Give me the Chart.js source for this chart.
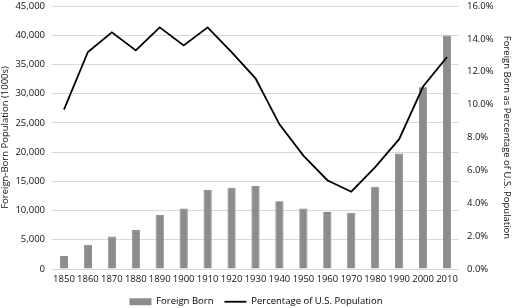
<!DOCTYPE html>
<html><head><meta charset="utf-8">
<script src="https://cdn.jsdelivr.net/npm/chart.js@4.4.1/dist/chart.umd.min.js"></script>
<style>html,body{margin:0;padding:0;background:#fff}#wrap{width:512px;height:308px}</style>
</head><body><div id="wrap"><canvas id="c" width="512" height="308"></canvas></div>
<script>
const years = ['1850','1860','1870','1880','1890','1900','1910','1920','1930','1940','1950','1960','1970','1980','1990','2000','2010'];
const foreignBorn = [2244,4139,5567,6680,9250,10341,13516,13921,14204,11595,10347,9738,9619,14080,19767,31108,39956];
const percentPop = [9.7,13.2,14.4,13.3,14.7,13.6,14.7,13.2,11.6,8.8,6.9,5.4,4.7,6.2,7.9,11.1,12.9];
const leftTitle = 'Foreign-Born Population (1000s)';
const rightTitle = 'Foreign Born as Percentage of U.S. Population';

const FONT = "'Open Sans', sans-serif";
Chart.defaults.font.family = FONT;
Chart.defaults.font.size = 9.5;
Chart.defaults.color = '#111';

new Chart(document.getElementById('c'), {
  data: {
    labels: years,
    datasets: [
      { type: 'line', label: 'Percentage of U.S. Population', data: percentPop, yAxisID: 'y1',
        borderColor: '#000', backgroundColor: '#000', borderWidth: 1.8, pointRadius: 0, tension: 0, order: 0 },
      { type: 'bar', label: 'Foreign Born', data: foreignBorn, yAxisID: 'y',
        backgroundColor: '#8c8c8c', borderColor: '#777', borderWidth: 0.8,
        categoryPercentage: 1, barPercentage: 0.34, order: 1 }
    ]
  },
  options: {
    responsive: false, animation: false,
    layout: { padding: { top: 6, left: 0, right: 0, bottom: 0 } },
    plugins: {
      tooltip: { enabled: false },
      legend: {
        position: 'bottom',
        maxHeight: 22,
        labels: {
          usePointStyle: true, pointStyleWidth: 22, boxHeight: 7, padding: 11,
          font: { size: 9.5, family: FONT }, color: '#111',
          generateLabels: (chart) => [
            { text: 'Foreign Born', fillStyle: '#8c8c8c', strokeStyle: '#8c8c8c', lineWidth: 0, pointStyle: 'rect', datasetIndex: 1 },
            { text: 'Percentage of U.S. Population', fillStyle: '#000', strokeStyle: '#000', lineWidth: 1.8, pointStyle: 'line', datasetIndex: 0 }
          ]
        }
      }
    },
    scales: {
      x: {
        grid: { display: false, drawTicks: false },
        border: { display: false },
        ticks: { padding: 5, maxRotation: 0, autoSkip: false, font: { size: 9.5 } },
        afterFit: (s) => { s.height = 17; }
      },
      y: {
        position: 'left', min: 0, max: 45000,
        ticks: { stepSize: 5000, padding: 7, callback: (v) => v.toLocaleString('en-US') },
        grid: { color: '#d9d9d9', lineWidth: 1, drawTicks: false },
        border: { display: false },
        title: { display: true, text: leftTitle, font: { size: 9.5 }, padding: { top: 0, bottom: 4 } },
        afterFit: (s) => { s.width = 52; s.paddingTop = 0; s.paddingBottom = 0; }
      },
      y1: {
        position: 'right', min: 0, max: 16,
        ticks: { stepSize: 2, padding: 8, callback: (v) => v.toFixed(1) + '%' },
        grid: { display: false, drawTicks: false },
        border: { display: false },
        title: { display: true, text: rightTitle, font: { size: 9.5 }, padding: { top: 0, bottom: 0 } },
        afterFit: (s) => { s.width = 53; s.paddingTop = 0; s.paddingBottom = 0; }
      }
    }
  }
});
</script></body></html>
